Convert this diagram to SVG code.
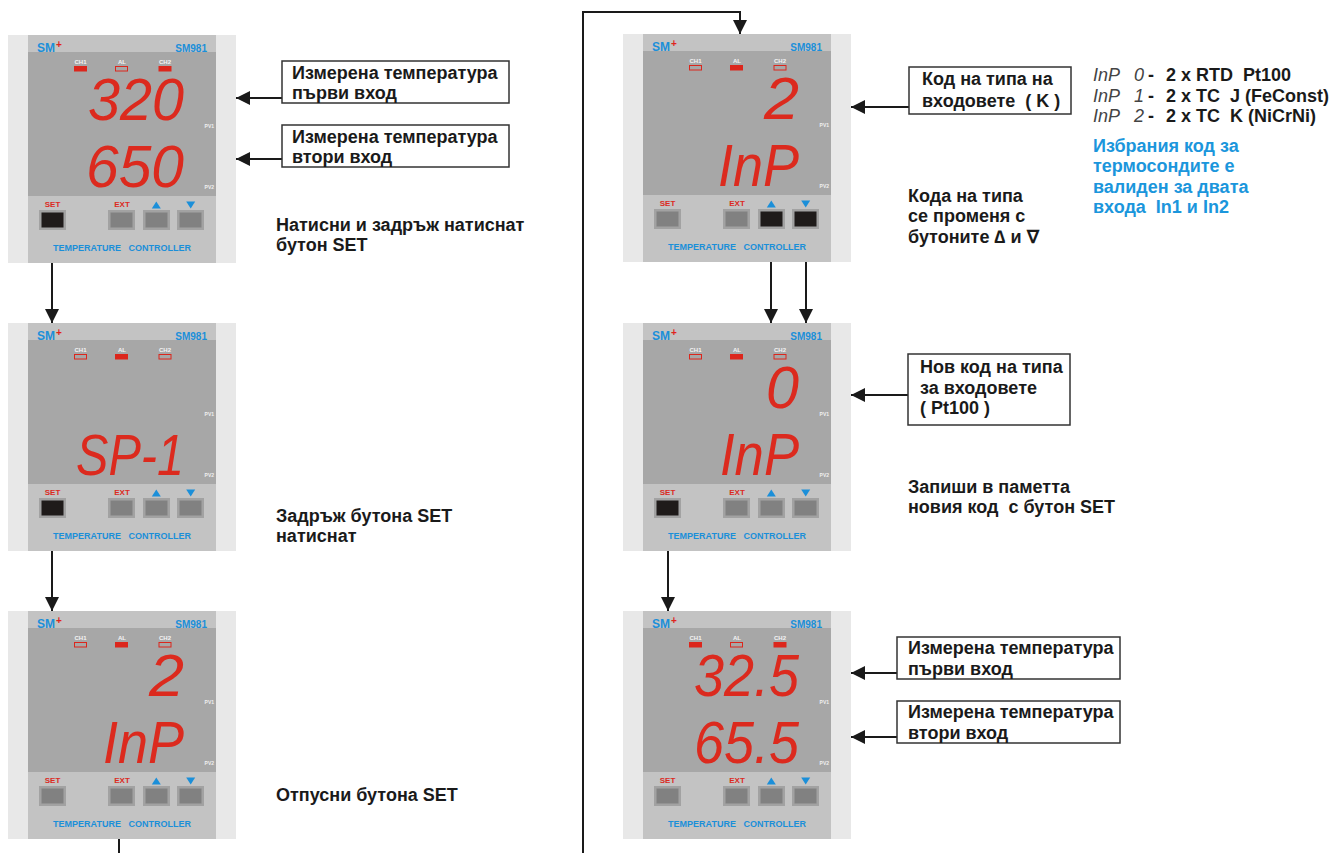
<svg xmlns="http://www.w3.org/2000/svg" width="1335" height="853" viewBox="0 0 1335 853">
<style>
text{font-family:"Liberation Sans",Arial,sans-serif}
.strip{fill:#e8e8e8}
.body{fill:#c3c3c3}
.disp{fill:#a7a7a7}
.sm{font-weight:bold;font-size:12px;fill:#1b8fd9}
.plus{font-weight:bold;font-size:10px;fill:#e0231b}
.model{font-weight:bold;font-size:10px;fill:#1b8fd9;text-anchor:end}
.ledl{font-weight:bold;font-size:6px;fill:#f4f4f4;text-anchor:middle}
.ledon{fill:#dc261c}
.ledoff{fill:none;stroke:#dc261c;stroke-width:1}
.pv{font-weight:bold;font-size:5px;fill:#f0f0f0;text-anchor:end}
.seg{font-style:italic;font-size:59.5px;fill:#dc2a1e}
.seg1{font-style:italic;font-size:57.5px;fill:#dc2a1e}
.btnl{font-weight:bold;font-size:8px;fill:#dc2a1e;text-anchor:middle}
.tri{fill:#1b8fd9}
.bo{fill:#a2a2a2}
.bi{fill:#818181}
.bp{fill:#1f1b1a}
.tc{font-weight:bold;font-size:9px;fill:#1b8fd9;text-anchor:middle;white-space:pre}
.lbl{font-weight:bold;font-size:18px;fill:#1a1a1a;white-space:pre}
.box{fill:#fff;stroke:#333;stroke-width:1.5}
.conn{fill:none;stroke:#1a1a1a;stroke-width:2}
.leg{font-weight:bold;font-size:18px;fill:#1a1a1a;white-space:pre}
.legs{font-style:italic;font-size:18px;fill:#444}
.blue{font-weight:bold;font-size:18px;fill:#1b96dc;white-space:pre}
</style>
<defs>
<marker id="ah" viewBox="0 0 14 14" refX="14" refY="7" markerWidth="14" markerHeight="14" orient="auto" markerUnits="userSpaceOnUse"><path d="M0,0 L14,7 L0,14 z" fill="#1a1a1a"/></marker>
</defs>
<rect width="1335" height="853" fill="#fff"/>

<g id="panel1" transform="translate(8,35)">
<rect class="strip" width="228" height="228"/><rect class="body" x="20" width="188" height="228"/><rect class="disp" x="20" y="17" width="188" height="144"/>
<text class="sm" x="29" y="17">SM</text><text class="plus" x="48" y="13">+</text><text class="model" x="199" y="17">SM981</text>
<text class="ledl" x="72.5" y="29">CH1</text><text class="ledl" x="114" y="29">AL</text><text class="ledl" x="157" y="29">CH2</text>
<rect class="ledon" x="66" y="31" width="13" height="5.5"/><rect class="ledoff" x="107.5" y="31.5" width="12" height="4.5"/><rect class="ledon" x="150.5" y="31" width="13" height="5.5"/>
<text class="pv" x="206" y="93">PV1</text><text class="pv" x="206" y="154">PV2</text>
<text class="seg" x="80" y="84.5" textLength="96" lengthAdjust="spacingAndGlyphs">320</text>
<text class="seg" x="78" y="151.5" textLength="98" lengthAdjust="spacingAndGlyphs">650</text>
<text class="btnl" x="44.5" y="172">SET</text><text class="btnl" x="114" y="172">EXT</text>
<polygon class="tri" points="143.8,173.5 152.8,173.5 148.3,166.5"/><polygon class="tri" points="178.2,166.5 187.2,166.5 182.7,173.5"/>
<rect class="bo" x="31" y="175" width="27" height="20"/><rect class="bp" x="33.5" y="177.5" width="22" height="15"/>
<rect class="bo" x="100" y="175" width="27" height="20"/><rect class="bi" x="102.5" y="177.5" width="22" height="15"/>
<rect class="bo" x="135" y="175" width="27" height="20"/><rect class="bi" x="137.5" y="177.5" width="22" height="15"/>
<rect class="bo" x="169" y="175" width="27" height="20"/><rect class="bi" x="171.5" y="177.5" width="22" height="15"/>
<text class="tc" x="114" y="216">TEMPERATURE   CONTROLLER</text>
</g>

<g id="panel2" transform="translate(8,323)">
<rect class="strip" width="228" height="228"/><rect class="body" x="20" width="188" height="228"/><rect class="disp" x="20" y="17" width="188" height="144"/>
<text class="sm" x="29" y="17">SM</text><text class="plus" x="48" y="13">+</text><text class="model" x="199" y="17">SM981</text>
<text class="ledl" x="72.5" y="29">CH1</text><text class="ledl" x="114" y="29">AL</text><text class="ledl" x="157" y="29">CH2</text>
<rect class="ledoff" x="66.5" y="31.5" width="12" height="4.5"/><rect class="ledon" x="107" y="31" width="13" height="5.5"/><rect class="ledoff" x="151" y="31.5" width="12" height="4.5"/>
<text class="pv" x="206" y="93">PV1</text><text class="pv" x="206" y="154">PV2</text>
<text class="seg1" x="68" y="152" textLength="108" lengthAdjust="spacingAndGlyphs">SP-1</text>
<text class="btnl" x="44.5" y="172">SET</text><text class="btnl" x="114" y="172">EXT</text>
<polygon class="tri" points="143.8,173.5 152.8,173.5 148.3,166.5"/><polygon class="tri" points="178.2,166.5 187.2,166.5 182.7,173.5"/>
<rect class="bo" x="31" y="175" width="27" height="20"/><rect class="bp" x="33.5" y="177.5" width="22" height="15"/>
<rect class="bo" x="100" y="175" width="27" height="20"/><rect class="bi" x="102.5" y="177.5" width="22" height="15"/>
<rect class="bo" x="135" y="175" width="27" height="20"/><rect class="bi" x="137.5" y="177.5" width="22" height="15"/>
<rect class="bo" x="169" y="175" width="27" height="20"/><rect class="bi" x="171.5" y="177.5" width="22" height="15"/>
<text class="tc" x="114" y="216">TEMPERATURE   CONTROLLER</text>
</g>

<g id="panel3" transform="translate(8,611)">
<rect class="strip" width="228" height="228"/><rect class="body" x="20" width="188" height="228"/><rect class="disp" x="20" y="17" width="188" height="144"/>
<text class="sm" x="29" y="17">SM</text><text class="plus" x="48" y="13">+</text><text class="model" x="199" y="17">SM981</text>
<text class="ledl" x="72.5" y="29">CH1</text><text class="ledl" x="114" y="29">AL</text><text class="ledl" x="157" y="29">CH2</text>
<rect class="ledoff" x="66.5" y="31.5" width="12" height="4.5"/><rect class="ledon" x="107" y="31" width="13" height="5.5"/><rect class="ledoff" x="151" y="31.5" width="12" height="4.5"/>
<text class="pv" x="206" y="93">PV1</text><text class="pv" x="206" y="154">PV2</text>
<text class="seg" x="141" y="84.5" textLength="35" lengthAdjust="spacingAndGlyphs">2</text>
<text class="seg" x="95" y="151.5" textLength="81" lengthAdjust="spacingAndGlyphs">InP</text>
<text class="btnl" x="44.5" y="172">SET</text><text class="btnl" x="114" y="172">EXT</text>
<polygon class="tri" points="143.8,173.5 152.8,173.5 148.3,166.5"/><polygon class="tri" points="178.2,166.5 187.2,166.5 182.7,173.5"/>
<rect class="bo" x="31" y="175" width="27" height="20"/><rect class="bi" x="33.5" y="177.5" width="22" height="15"/>
<rect class="bo" x="100" y="175" width="27" height="20"/><rect class="bi" x="102.5" y="177.5" width="22" height="15"/>
<rect class="bo" x="135" y="175" width="27" height="20"/><rect class="bi" x="137.5" y="177.5" width="22" height="15"/>
<rect class="bo" x="169" y="175" width="27" height="20"/><rect class="bi" x="171.5" y="177.5" width="22" height="15"/>
<text class="tc" x="114" y="216">TEMPERATURE   CONTROLLER</text>
</g>

<g id="panel4" transform="translate(623,34)">
<rect class="strip" width="228" height="228"/><rect class="body" x="20" width="188" height="228"/><rect class="disp" x="20" y="17" width="188" height="144"/>
<text class="sm" x="29" y="17">SM</text><text class="plus" x="48" y="13">+</text><text class="model" x="199" y="17">SM981</text>
<text class="ledl" x="72.5" y="29">CH1</text><text class="ledl" x="114" y="29">AL</text><text class="ledl" x="157" y="29">CH2</text>
<rect class="ledoff" x="66.5" y="31.5" width="12" height="4.5"/><rect class="ledon" x="107" y="31" width="13" height="5.5"/><rect class="ledoff" x="151" y="31.5" width="12" height="4.5"/>
<text class="pv" x="206" y="93">PV1</text><text class="pv" x="206" y="154">PV2</text>
<text class="seg" x="141" y="84.5" textLength="35" lengthAdjust="spacingAndGlyphs">2</text>
<text class="seg" x="95" y="151.5" textLength="81" lengthAdjust="spacingAndGlyphs">InP</text>
<text class="btnl" x="44.5" y="172">SET</text><text class="btnl" x="114" y="172">EXT</text>
<polygon class="tri" points="143.8,173.5 152.8,173.5 148.3,166.5"/><polygon class="tri" points="178.2,166.5 187.2,166.5 182.7,173.5"/>
<rect class="bo" x="31" y="175" width="27" height="20"/><rect class="bi" x="33.5" y="177.5" width="22" height="15"/>
<rect class="bo" x="100" y="175" width="27" height="20"/><rect class="bi" x="102.5" y="177.5" width="22" height="15"/>
<rect class="bo" x="135" y="175" width="27" height="20"/><rect class="bp" x="137.5" y="177.5" width="22" height="15"/>
<rect class="bo" x="169" y="175" width="27" height="20"/><rect class="bp" x="171.5" y="177.5" width="22" height="15"/>
<text class="tc" x="114" y="216">TEMPERATURE   CONTROLLER</text>
</g>

<g id="panel5" transform="translate(623,323)">
<rect class="strip" width="228" height="228"/><rect class="body" x="20" width="188" height="228"/><rect class="disp" x="20" y="17" width="188" height="144"/>
<text class="sm" x="29" y="17">SM</text><text class="plus" x="48" y="13">+</text><text class="model" x="199" y="17">SM981</text>
<text class="ledl" x="72.5" y="29">CH1</text><text class="ledl" x="114" y="29">AL</text><text class="ledl" x="157" y="29">CH2</text>
<rect class="ledoff" x="66.5" y="31.5" width="12" height="4.5"/><rect class="ledon" x="107" y="31" width="13" height="5.5"/><rect class="ledoff" x="151" y="31.5" width="12" height="4.5"/>
<text class="pv" x="206" y="93">PV1</text><text class="pv" x="206" y="154">PV2</text>
<text class="seg" x="143" y="84.5" textLength="33" lengthAdjust="spacingAndGlyphs">0</text>
<text class="seg" x="97" y="151.5" textLength="79" lengthAdjust="spacingAndGlyphs">InP</text>
<text class="btnl" x="44.5" y="172">SET</text><text class="btnl" x="114" y="172">EXT</text>
<polygon class="tri" points="143.8,173.5 152.8,173.5 148.3,166.5"/><polygon class="tri" points="178.2,166.5 187.2,166.5 182.7,173.5"/>
<rect class="bo" x="31" y="175" width="27" height="20"/><rect class="bp" x="33.5" y="177.5" width="22" height="15"/>
<rect class="bo" x="100" y="175" width="27" height="20"/><rect class="bi" x="102.5" y="177.5" width="22" height="15"/>
<rect class="bo" x="135" y="175" width="27" height="20"/><rect class="bi" x="137.5" y="177.5" width="22" height="15"/>
<rect class="bo" x="169" y="175" width="27" height="20"/><rect class="bi" x="171.5" y="177.5" width="22" height="15"/>
<text class="tc" x="114" y="216">TEMPERATURE   CONTROLLER</text>
</g>

<g id="panel6" transform="translate(623,611)">
<rect class="strip" width="228" height="228"/><rect class="body" x="20" width="188" height="228"/><rect class="disp" x="20" y="17" width="188" height="144"/>
<text class="sm" x="29" y="17">SM</text><text class="plus" x="48" y="13">+</text><text class="model" x="199" y="17">SM981</text>
<text class="ledl" x="72.5" y="29">CH1</text><text class="ledl" x="114" y="29">AL</text><text class="ledl" x="157" y="29">CH2</text>
<rect class="ledon" x="66" y="31" width="13" height="5.5"/><rect class="ledoff" x="107.5" y="31.5" width="12" height="4.5"/><rect class="ledon" x="150.5" y="31" width="13" height="5.5"/>
<text class="pv" x="206" y="93">PV1</text><text class="pv" x="206" y="154">PV2</text>
<text class="seg" x="71" y="84.5" textLength="105" lengthAdjust="spacingAndGlyphs">32.5</text>
<text class="seg" x="71" y="151.5" textLength="105" lengthAdjust="spacingAndGlyphs">65.5</text>
<text class="btnl" x="44.5" y="172">SET</text><text class="btnl" x="114" y="172">EXT</text>
<polygon class="tri" points="143.8,173.5 152.8,173.5 148.3,166.5"/><polygon class="tri" points="178.2,166.5 187.2,166.5 182.7,173.5"/>
<rect class="bo" x="31" y="175" width="27" height="20"/><rect class="bi" x="33.5" y="177.5" width="22" height="15"/>
<rect class="bo" x="100" y="175" width="27" height="20"/><rect class="bi" x="102.5" y="177.5" width="22" height="15"/>
<rect class="bo" x="135" y="175" width="27" height="20"/><rect class="bi" x="137.5" y="177.5" width="22" height="15"/>
<rect class="bo" x="169" y="175" width="27" height="20"/><rect class="bi" x="171.5" y="177.5" width="22" height="15"/>
<text class="tc" x="114" y="216">TEMPERATURE   CONTROLLER</text>
</g>

<g id="connectors">
<line class="conn" x1="52" y1="263" x2="52" y2="323" marker-end="url(#ah)"/>
<line class="conn" x1="52" y1="551" x2="52" y2="611" marker-end="url(#ah)"/>
<line class="conn" x1="119" y1="839" x2="119" y2="853"/>
<polyline class="conn" points="583,853 583,12 740,12 740,34" marker-end="url(#ah)"/>
<line class="conn" x1="771" y1="262" x2="771" y2="323" marker-end="url(#ah)"/>
<line class="conn" x1="806" y1="262" x2="806" y2="323" marker-end="url(#ah)"/>
<line class="conn" x1="668" y1="551" x2="668" y2="611" marker-end="url(#ah)"/>
<line class="conn" x1="282" y1="98" x2="236" y2="98" marker-end="url(#ah)"/>
<line class="conn" x1="282" y1="159" x2="236" y2="159" marker-end="url(#ah)"/>
<line class="conn" x1="909" y1="107" x2="851" y2="107" marker-end="url(#ah)"/>
<line class="conn" x1="908" y1="395" x2="851" y2="395" marker-end="url(#ah)"/>
<line class="conn" x1="897" y1="673" x2="851" y2="673" marker-end="url(#ah)"/>
<line class="conn" x1="897" y1="737" x2="851" y2="737" marker-end="url(#ah)"/>
</g>

<g id="label1"><rect class="box" x="282" y="61" width="227" height="42"/>
<text class="lbl" x="292" y="79">Измерена температура</text><text class="lbl" x="292" y="99">първи вход</text></g>
<g id="label2"><rect class="box" x="282" y="125" width="227" height="42"/>
<text class="lbl" x="292" y="143">Измерена температура</text><text class="lbl" x="292" y="163">втори вход</text></g>
<g id="label3"><rect class="box" x="909" y="67" width="162" height="47"/>
<text class="lbl" x="922" y="85">Код на типа на</text><text class="lbl" x="922" y="107">входовете  ( K )</text></g>
<g id="label4"><rect class="box" x="908" y="354" width="162" height="71"/>
<text class="lbl" x="920" y="373">Нов код на типа</text><text class="lbl" x="920" y="394">за входовете</text><text class="lbl" x="920" y="414">( Pt100 )</text></g>
<g id="label5"><rect class="box" x="897" y="637" width="223" height="42"/>
<text class="lbl" x="908" y="654">Измерена температура</text><text class="lbl" x="908" y="675">първи вход</text></g>
<g id="label6"><rect class="box" x="897" y="701" width="223" height="42"/>
<text class="lbl" x="908" y="718">Измерена температура</text><text class="lbl" x="908" y="739">втори вход</text></g>

<g id="notes">
<text class="lbl" x="276" y="231">Натисни и задръж натиснат</text><text class="lbl" x="276" y="251">бутон SET</text>
<text class="lbl" x="276" y="522">Задръж бутона SET</text><text class="lbl" x="276" y="542">натиснат</text>
<text class="lbl" x="276" y="801">Отпусни бутона SET</text>
<text class="lbl" x="908" y="202">Кода на типа</text><text class="lbl" x="908" y="222">се променя с</text><text class="lbl" x="908" y="243">бутоните ∆ и ∇</text>
<text class="lbl" x="908" y="493">Запиши в паметта</text><text class="lbl" x="908" y="513">новия код  с бутон SET</text>
</g>

<g id="legend">
<text class="legs" x="1093" y="81">InP</text><text class="legs" x="1134" y="81">0</text><text class="leg" x="1148" y="81">-</text><text class="leg" x="1166" y="81">2 x RTD  Pt100</text>
<text class="legs" x="1093" y="102">InP</text><text class="legs" x="1134" y="102">1</text><text class="leg" x="1148" y="102">-</text><text class="leg" x="1166" y="102">2 x TC  J (FeConst)</text>
<text class="legs" x="1093" y="122">InP</text><text class="legs" x="1134" y="122">2</text><text class="leg" x="1148" y="122">-</text><text class="leg" x="1166" y="122">2 x TC  K (NiCrNi)</text>
<text class="blue" x="1093" y="152">Избрания код за</text>
<text class="blue" x="1093" y="172">термосондите е</text>
<text class="blue" x="1093" y="193">валиден за двата</text>
<text class="blue" x="1093" y="213">входа  In1 и In2</text>
</g>
</svg>
